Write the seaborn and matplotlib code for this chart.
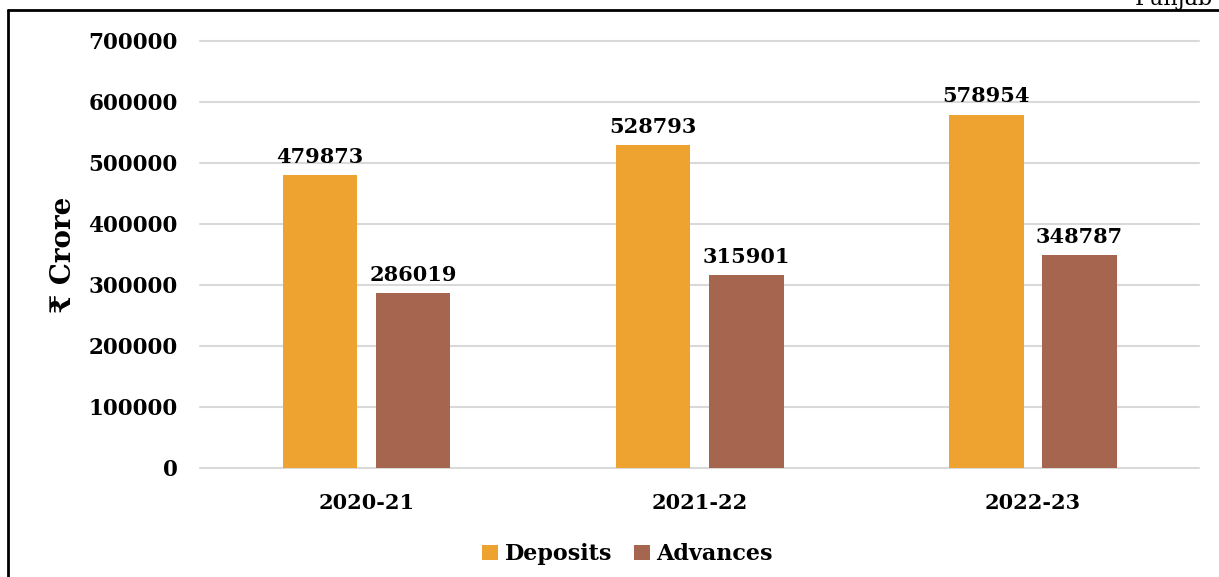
import matplotlib
matplotlib.use("Agg")
import matplotlib.pyplot as plt
from matplotlib.lines import Line2D
import seaborn as sns
import pandas as pd

# Data
years = ["2020-21", "2021-22", "2022-23"]
deposits = [479873, 528793, 578954]
advances = [286019, 315901, 348787]
series_names = ["Deposits", "Advances"]
y_ticks = [0, 100000, 200000, 300000, 400000, 500000, 600000, 700000]

colors = {"Deposits": "#EEA331", "Advances": "#A6654F"}

df = pd.DataFrame({
    "Year": years * 2,
    "Series": [series_names[0]] * len(years) + [series_names[1]] * len(years),
    "Value": deposits + advances,
})

sns.set_theme(style="white")
plt.rcParams["font.family"] = ["DejaVu Serif", "DejaVu Sans"]
plt.rcParams["text.color"] = "black"
plt.rcParams["axes.labelcolor"] = "black"
plt.rcParams["xtick.color"] = "black"
plt.rcParams["ytick.color"] = "black"

fig = plt.figure(figsize=(12.19, 5.77), dpi=100)
ax = fig.add_axes([0.164, 0.189, 0.820, 0.740])

sns.barplot(data=df, x="Year", y="Value", hue="Series", palette=colors,
            width=0.56, gap=0.2, ax=ax, saturation=1, legend=True,
            linewidth=0)

ax.set_ylim(0, 700000)
ax.set_yticks(y_ticks)
ax.set_yticklabels([str(v) for v in y_ticks], fontsize=15.5, fontweight="bold")
ax.set_xticks(range(len(years)))
ax.set_xticklabels(years, fontsize=15, fontweight="bold")
ax.tick_params(axis="y", length=0, pad=16)
ax.tick_params(axis="x", length=0, pad=18)
ax.set_xlabel("")
ax.set_ylabel("₹ Crore", fontsize=20, fontweight="bold", labelpad=8)

ax.yaxis.grid(True, color="#D9D9D9", linewidth=1.5)
ax.set_axisbelow(True)
for line in ax.get_ygridlines():
    line.set_clip_on(False)
for s in ax.spines.values():
    s.set_visible(False)

for cont in ax.containers:
    ax.bar_label(cont, fmt="%d", padding=6, fontsize=15, fontweight="bold")

leg = ax.legend(loc="upper center", bbox_to_anchor=(0.428, -0.13), ncol=2,
                frameon=False, handlelength=0.7, handleheight=0.7,
                handletextpad=0.3, columnspacing=1.0,
                prop={"size": 16, "weight": "bold"})

# Frame lines along the top and left edges
fig.add_artist(Line2D([0.0066, 0.0066], [0.0, 0.982], color="black", lw=2,
                      transform=fig.transFigure))
fig.add_artist(Line2D([0.0066, 1.0], [0.982, 0.982], color="black", lw=2,
                      transform=fig.transFigure))
fig.text(0.995, 0.992, "Punjab", ha="right", va="baseline", fontsize=16)

fig.savefig("out.png", dpi=100)
